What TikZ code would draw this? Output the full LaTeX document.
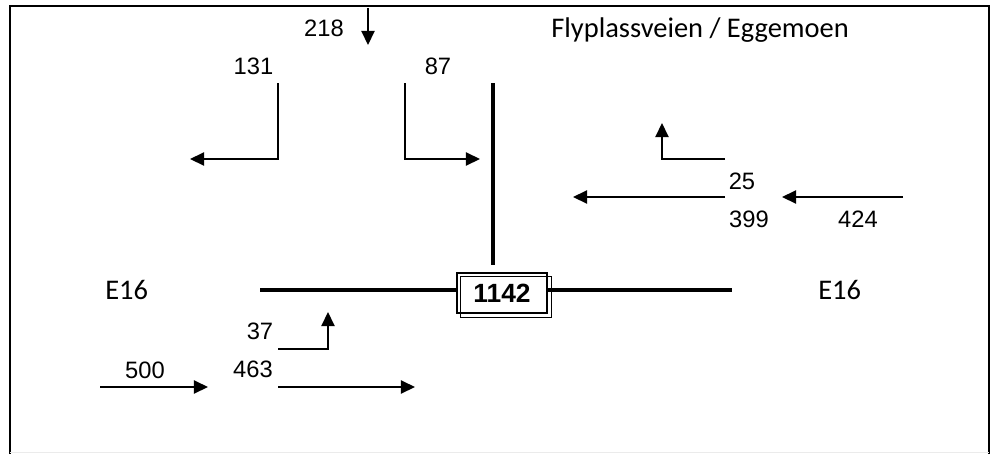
\documentclass[tikz,border=0pt]{standalone}
\usepackage{fontspec}
\setmainfont{Liberation Sans}
\newfontfamily\calibri{Carlito}
\usetikzlibrary{arrows.meta}

\begin{document}
\begin{tikzpicture}[x=0.02cm,y=-0.02cm,
  flow/.style={line width=0.85pt,-{Triangle[length=8pt,width=7.5pt]}},
  road/.style={line width=2.8pt},
  count/.style={font=\fontsize{13.5}{16}\selectfont,inner sep=0pt},
  place/.style={font=\calibri\fontsize{16.2}{19}\selectfont,inner sep=0pt,anchor=base west},
  junctionbox/.style={draw,line width=0.8pt,minimum width=1.8cm,minimum height=0.8cm,
    inner sep=0pt,font=\bfseries\fontsize{15}{18}\selectfont}]
\useasboundingbox (0,0) rectangle (992,454);
% frame
\draw[line width=1.5pt] (10,454) -- (10,6) -- (989,6) -- (989,454);
\draw[black!8] (10,452) -- (989,452);

% junction and roads
\node[junctionbox] (junction) at (502,293) {1142};
\draw[line width=0.8pt] ([shift={(4,4)}]junction.north west) rectangle ([shift={(4,4)}]junction.south east);
\coordinate (west) at (260,290);
\coordinate (east) at (732,290);
\coordinate (north) at (493,83);
\coordinate (northend) at (493,265);
\draw[road] (west) -- (west -| junction.west);
\draw[road] (east -| junction.east) -- (east);
\draw[road] (north) -- (northend);

% place names
\node[place] (flyplass) at (551,37) {Flyplassveien / Eggemoen};
\node[place] (e16west) at (105,299) {E16};
\node[place] (e16east) at (818,299) {E16};

% counts
\foreach \x/\y/\n in {
  324/28.5/218, 253.5/66/131, 438/66/87,
  742/181/25, 749/219/399, 858/219/424,
  260/331/37, 253/369/463, 145/370/500
} {
  \node[count] (n\n) at (\x,\y) {\n};
}

% turning movements
\draw[flow] (368,8) -- (368,45);
\draw[flow] (278,83) -- (278,159) -- (190,159);
\draw[flow] (405,83) -- (405,159) -- (480,159);
\draw[flow] (725,159) -- (662,159) -- (662,123);
\draw[flow] (725,197) -- (573,197);
\draw[flow] (903,197) -- (782,197);
\draw[flow] (278,349) -- (328,349) -- (328,312);
\draw[flow] (278,387) -- (415,387);
\draw[flow] (100,387) -- (208,387);
\end{tikzpicture}
\end{document}
